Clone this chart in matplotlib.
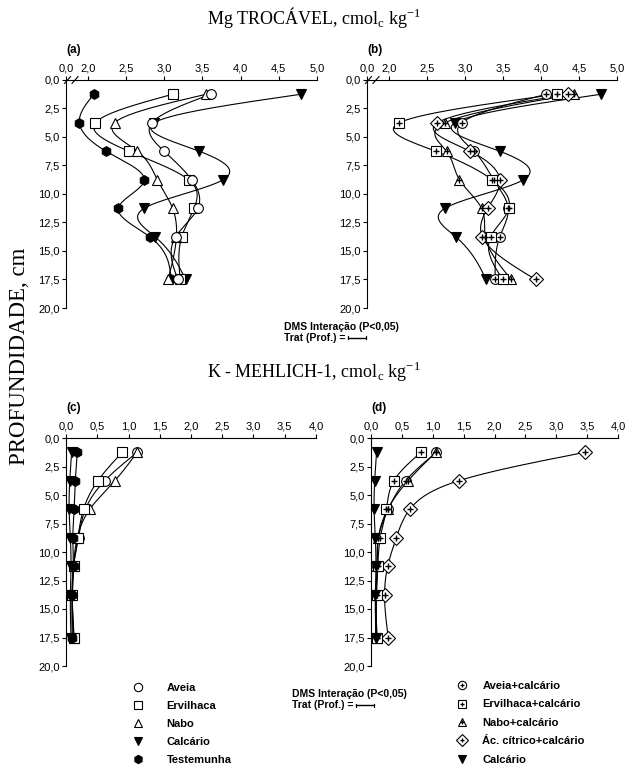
import numpy as np
import matplotlib
matplotlib.use('Agg')
import matplotlib.pyplot as plt
from matplotlib.lines import Line2D
from matplotlib.legend_handler import HandlerTuple

# profundidades (cm)
prof = [1.25, 3.75, 6.25, 8.75, 11.25, 13.75, 17.5]

# Mg trocável, cmolc/kg - (a)
mg_aveia = [3.61, 2.84, 3.00, 3.36, 3.44, 3.15, 3.18]
mg_ervilhaca = [3.11, 2.10, 2.54, 3.32, 3.39, 3.23, 3.21]
mg_nabo = [3.55, 2.35, 2.65, 2.91, 3.11, 3.16, 3.05]
mg_calcario = [4.79, 2.87, 3.46, 3.77, 2.74, 2.88, 3.28]
mg_testemunha = [2.08, 1.89, 2.24, 2.74, 2.40, 2.81, 3.09]

# Mg trocável - (b)
mg_aveia_calc = [4.07, 2.96, 3.12, 3.38, 3.57, 3.46, 3.40]
mg_ervilhaca_calc = [4.21, 2.14, 2.62, 3.36, 3.58, 3.34, 3.50]
mg_nabo_calc = [4.43, 2.74, 2.76, 2.93, 3.22, 3.27, 3.61]
mg_citrico_calc = [4.36, 2.64, 3.07, 3.46, 3.30, 3.23, 3.93]

# K Mehlich-1 - (c)
k_aveia = [1.14, 0.62, 0.31, 0.20, 0.12, 0.10, 0.13]
k_ervilhaca = [0.90, 0.51, 0.28, 0.19, 0.12, 0.10, 0.12]
k_nabo = [1.14, 0.78, 0.38, 0.18, 0.12, 0.10, 0.12]
k_calcario = [0.09, 0.06, 0.05, 0.07, 0.08, 0.07, 0.08]
k_testemunha = [0.18, 0.15, 0.13, 0.11, 0.12, 0.10, 0.10]

# K Mehlich-1 - (d)
k_aveia_calc = [1.06, 0.56, 0.28, 0.12, 0.10, 0.08, 0.08]
k_ervilhaca_calc = [0.81, 0.37, 0.25, 0.15, 0.11, 0.09, 0.09]
k_nabo_calc = [1.05, 0.60, 0.27, 0.12, 0.10, 0.08, 0.10]
k_citrico_calc = [3.47, 1.42, 0.63, 0.41, 0.27, 0.22, 0.28]

yticks = [0, 2.5, 5, 7.5, 10, 12.5, 15, 17.5, 20]
mg_xticks = [2.0, 2.5, 3.0, 3.5, 4.0, 4.5, 5.0]
k_xticks = [0.0, 0.5, 1.0, 1.5, 2.0, 2.5, 3.0, 3.5, 4.0]
mg_xmin = 1.715

plt.rcParams['font.family'] = ['Liberation Sans', 'DejaVu Sans']


def comma(v, fmt='{:.1f}'):
    return fmt.format(v).replace('.', ',')


def spline(y, x, n=300):
    # spline cubica natural x(y), so para o desenho da curva
    y = np.asarray(y, float)
    x = np.asarray(x, float)
    m = len(y)
    h = np.diff(y)
    A = np.zeros((m, m))
    r = np.zeros(m)
    A[0, 0] = A[-1, -1] = 1
    for i in range(1, m - 1):
        A[i, i - 1] = h[i - 1]
        A[i, i] = 2 * (h[i - 1] + h[i])
        A[i, i + 1] = h[i]
        r[i] = 3 * ((x[i + 1] - x[i]) / h[i] - (x[i] - x[i - 1]) / h[i - 1])
    c = np.linalg.solve(A, r)
    b = (x[1:] - x[:-1]) / h - h * (2 * c[:-1] + c[1:]) / 3
    d = (c[1:] - c[:-1]) / (3 * h)
    yy = np.linspace(y[0], y[-1], n)
    k = np.clip(np.searchsorted(y, yy) - 1, 0, m - 2)
    t = yy - y[k]
    xx = x[k] + b[k] * t + c[k] * t ** 2 + d[k] * t ** 3
    return xx, yy


def serie(ax, x, marker, face, plus=False):
    xx, yy = spline(prof, x)
    ax.plot(xx, yy, color='black', lw=0.8, zorder=2)
    ax.plot(x, prof, ls='none', marker=marker, ms=7, mfc=face, mec='black', mew=0.8, zorder=3)
    if plus:
        ax.plot(x, prof, ls='none', marker='+', ms=4, mec='black', mew=1.0, zorder=4)


def eixo(ax, letra, xticks, xlim, mg):
    ax.set_ylim(20, 0)
    ax.set_xlim(*xlim)
    ax.xaxis.tick_top()
    ax.spines['bottom'].set_visible(False)
    ax.spines['right'].set_visible(False)
    ax.spines['left'].set_linewidth(0.8)
    ax.spines['top'].set_linewidth(0.8)
    ax.set_yticks(yticks)
    ax.set_yticklabels([comma(v) for v in yticks])
    if mg:
        ax.set_xticks([mg_xmin] + xticks)
        ax.set_xticklabels(['0,0'] + [comma(v) for v in xticks])
        for xo in (0.006, 0.036):
            ax.plot([xo - 0.012, xo + 0.012], [0.985, 1.015], transform=ax.transAxes,
                    color='black', lw=0.8, clip_on=False)
    else:
        ax.set_xticks(xticks)
        ax.set_xticklabels([comma(v) for v in xticks])
    ax.tick_params(axis='both', labelsize=8, length=3, width=0.8, pad=1.5)
    ax.text(0.0, 1.12, letra, transform=ax.transAxes, fontsize=8.5, fontweight='bold')


fig = plt.figure(figsize=(6.29, 7.67), dpi=100)
W, H = 629, 767


def box(x0, x1, ytop, ybot):
    return [x0 / W, 1 - ybot / H, (x1 - x0) / W, (ybot - ytop) / H]


ax_a = fig.add_axes(box(66, 317, 80, 308))
ax_b = fig.add_axes(box(367, 617, 80, 308))
ax_c = fig.add_axes(box(66, 316, 438, 666))
ax_d = fig.add_axes(box(371, 618, 438, 666))

serie(ax_a, mg_testemunha, 'h', 'black')
serie(ax_a, mg_calcario, 'v', 'black')
serie(ax_a, mg_ervilhaca, 's', 'white')
serie(ax_a, mg_nabo, '^', 'white')
serie(ax_a, mg_aveia, 'o', 'white')
eixo(ax_a, '(a)', mg_xticks, (mg_xmin, 5.0), True)

serie(ax_b, mg_calcario, 'v', 'black')
serie(ax_b, mg_aveia_calc, 'o', 'white', True)
serie(ax_b, mg_nabo_calc, '^', 'white', True)
serie(ax_b, mg_citrico_calc, 'D', 'white', True)
serie(ax_b, mg_ervilhaca_calc, 's', 'white', True)
eixo(ax_b, '(b)', mg_xticks, (mg_xmin, 5.0), True)

serie(ax_c, k_aveia, 'o', 'white')
serie(ax_c, k_nabo, '^', 'white')
serie(ax_c, k_ervilhaca, 's', 'white')
serie(ax_c, k_calcario, 'v', 'black')
serie(ax_c, k_testemunha, 'h', 'black')
eixo(ax_c, '(c)', k_xticks, (0, 4.0), False)

serie(ax_d, k_citrico_calc, 'D', 'white', True)
serie(ax_d, k_aveia_calc, 'o', 'white', True)
serie(ax_d, k_nabo_calc, '^', 'white', True)
serie(ax_d, k_ervilhaca_calc, 's', 'white', True)
serie(ax_d, k_calcario, 'v', 'black')
eixo(ax_d, '(d)', k_xticks, (0, 4.0), False)

serif = ['Liberation Serif', 'DejaVu Serif']
fig.text(314 / W, 1 - 18 / H, r'Mg TROCÁVEL, cmol$_\mathregular{c}$ kg$^\mathregular{-1}$',
         family=serif, fontsize=13, ha='center', va='center')
fig.text(314 / W, 1 - 372 / H, r'K - MEHLICH-1, cmol$_\mathregular{c}$ kg$^\mathregular{-1}$',
         family=serif, fontsize=13, ha='center', va='center')
fig.text(20 / W, 1 - 356 / H, 'PROFUNDIDADE, cm', family=serif, fontsize=16.5,
         rotation=90, ha='center', va='center')

fig.canvas.draw()
rend = fig.canvas.get_renderer()


def dms(x, y):
    fig.text(x / W, 1 - y / H, 'DMS Interação (P<0,05)', fontsize=7.5, fontweight='bold', va='center')
    t = fig.text(x / W, 1 - (y + 11) / H, 'Trat (Prof.) =', fontsize=7.5, fontweight='bold', va='center')
    bb = t.get_window_extent(rend)
    x0 = (bb.x1 + 3) / W
    x1 = (bb.x1 + 21) / W
    yl = 1 - (y + 11) / H
    fig.add_artist(Line2D([x0, x1], [yl, yl], color='black', lw=1.0))
    for xe in (x0, x1):
        fig.add_artist(Line2D([xe, xe], [yl - 1.5 / H, yl + 1.5 / H], color='black', lw=0.8))


dms(284, 327)
dms(292, 694)


# legendas
def h(marker, face):
    return Line2D([], [], ls='none', marker=marker, ms=6, mfc=face, mec='black', mew=0.8)


fig.legend([h('o', 'white'), h('s', 'white'), h('^', 'white'), h('v', 'black'), h('h', 'black')],
           ['Aveia', 'Ervilhaca', 'Nabo', 'Calcário', 'Testemunha'],
           loc='upper left', bbox_to_anchor=(131 / W, 1 - 683 / H), frameon=False,
           prop={'size': 8, 'weight': 'bold'}, handlelength=1.2, handletextpad=2.0,
           labelspacing=0.72, borderpad=0, borderaxespad=0)

plus = Line2D([], [], ls='none', marker='+', ms=3.5, mec='black', mew=0.9)
hs = [(h('o', 'white'), plus), (h('s', 'white'), plus), (h('^', 'white'), plus),
      (h('D', 'white'), plus), h('v', 'black')]
fig.legend(hs, ['Aveia+calcário', 'Ervilhaca+calcário', 'Nabo+calcário',
                'Ác. cítrico+calcário', 'Calcário'],
           handler_map={tuple: HandlerTuple(ndivide=1)},
           loc='upper left', bbox_to_anchor=(455 / W, 1 - 681 / H), frameon=False,
           prop={'size': 8, 'weight': 'bold'}, handlelength=1.2, handletextpad=1.25,
           labelspacing=0.76, borderpad=0, borderaxespad=0)

fig.savefig('out.png', dpi=100)
